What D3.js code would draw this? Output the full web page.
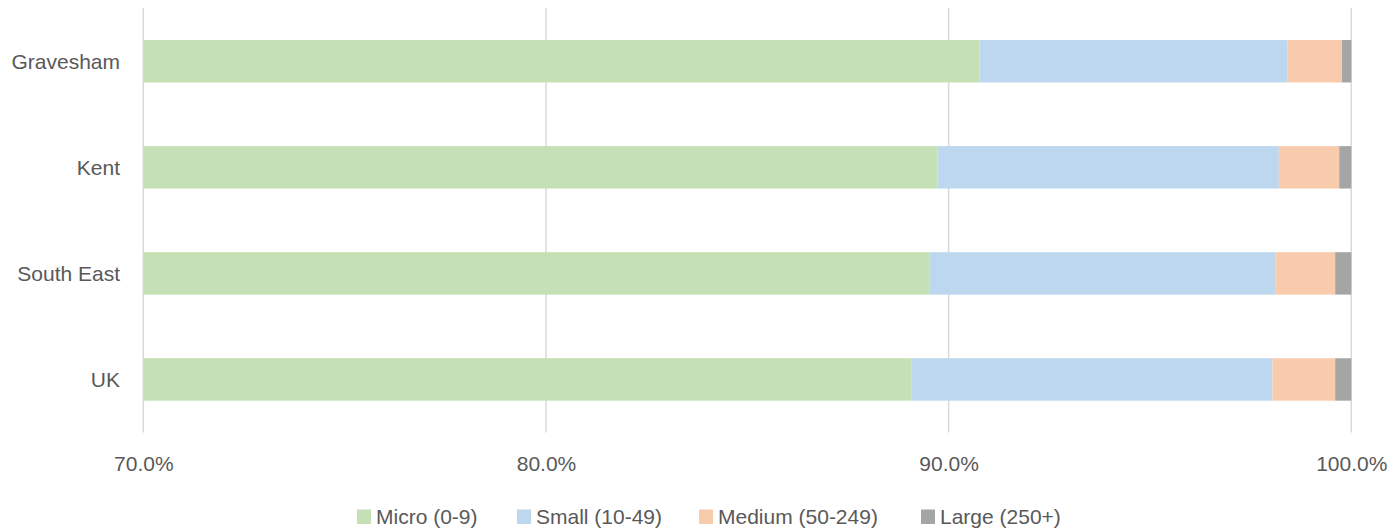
<!DOCTYPE html>
<html><head><meta charset="utf-8">
<script src="https://cdn.jsdelivr.net/npm/d3@7"></script>
<style>body{margin:0;background:#fff}svg{display:block}</style>
</head><body>
<script>
const categories = ["Gravesham","Kent","South East","UK"];
const seriesNames = ["Micro (0-9)","Small (10-49)","Medium (50-249)","Large (250+)"];
const micro  = [90.77, 89.72, 89.52, 89.07];
const small  = [7.65, 8.48, 8.59, 8.97];
const medium = [1.35, 1.50, 1.49, 1.56];
const large  = [0.23, 0.30, 0.40, 0.40];
const xTicks = [70, 80, 90, 100];
const colors = ["#C5E0B4","#BDD7EE","#F8CBAD","#A5A5A5"];

const W = 1394, H = 532;
const font = "'Liberation Sans', Arial, sans-serif";
const svg = d3.select("body").append("svg").attr("width", W).attr("height", H);

const x = d3.scaleLinear().domain([70, 100]).range([143.3, 1351.3]);
const y = d3.scaleBand().domain(categories).range([8.2, 432.5]).paddingInner(0.6).paddingOuter(0.3);

const rows = categories.map((c, i) => ({cat: c, Micro: micro[i], Small: small[i], Medium: medium[i], Large: large[i]}));
const keys = ["Micro","Small","Medium","Large"];
const stack = d3.stack().keys(keys)(rows);

// gridlines
svg.append("g").selectAll("line").data(xTicks).join("line")
  .attr("x1", d => x(d)).attr("x2", d => x(d))
  .attr("y1", 8).attr("y2", 432.5)
  .attr("stroke", "#D9D9D9").attr("stroke-width", 1.5);

// bars
svg.append("g").selectAll("g").data(stack).join("g")
  .attr("fill", (d, i) => colors[i])
  .selectAll("rect").data(d => d).join("rect")
  .attr("x", d => x(Math.max(70, d[0])))
  .attr("width", d => x(d[1]) - x(Math.max(70, d[0])))
  .attr("y", d => y(d.data.cat))
  .attr("height", y.bandwidth());

// y labels
svg.append("g").selectAll("text").data(categories).join("text")
  .attr("x", 120).attr("y", d => y(d) + y.bandwidth() / 2)
  .attr("dy", "0.35em").attr("text-anchor", "end")
  .attr("font-family", font).attr("font-size", 21).attr("fill", "#595959")
  .text(d => d);

// x axis labels
const xAxis = d3.axisBottom(x).tickValues(xTicks).tickFormat(d => d.toFixed(1) + "%").tickSize(0).tickPadding(0);
const gx = svg.append("g").attr("transform", "translate(0,456)").call(xAxis);
gx.select(".domain").remove();
gx.selectAll("text").attr("font-family", font).attr("font-size", 21).attr("fill", "#595959");

// legend
const legendX = [357, 517, 699, 921];
const lg = svg.append("g").selectAll("g").data(seriesNames).join("g")
  .attr("transform", (d, i) => `translate(${legendX[i]},517)`);
lg.append("rect").attr("x", 0).attr("y", -7.5).attr("width", 14).attr("height", 14.5).attr("fill", (d, i) => colors[i]);
lg.append("text").attr("x", 19).attr("dy", "0.35em")
  .attr("font-family", font).attr("font-size", 21).attr("fill", "#595959").text(d => d);
</script>
</body></html>
